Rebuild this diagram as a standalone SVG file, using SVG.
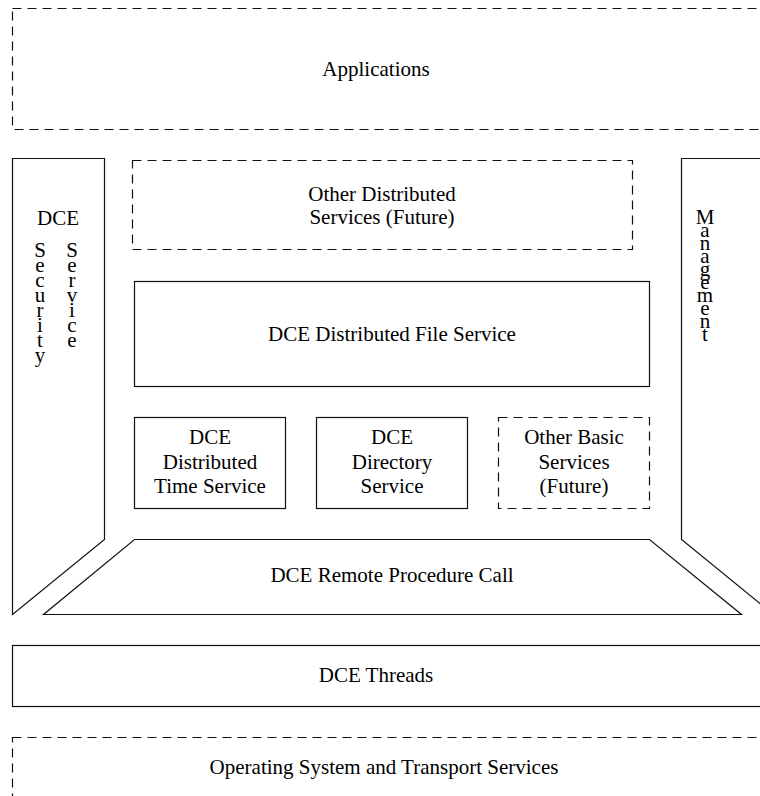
<svg xmlns="http://www.w3.org/2000/svg" width="760" height="796" viewBox="0 0 760 796">
<style>
.b{fill:none;stroke:#111;stroke-width:1.2}
.d{fill:none;stroke:#111;stroke-width:1.2;stroke-dasharray:9 6}
text{font-family:"Liberation Serif","Times New Roman",serif;font-size:21px;fill:#000;text-anchor:middle}
</style>
<rect width="760" height="796" fill="#fff"/>
<g id="applications">
<rect class="d" x="12.5" y="8.5" width="770" height="121"/>
<text x="376" y="76">Applications</text>
</g>
<g id="security">
<path class="b" d="M12.5 158.5 H104.5 V539.5 L12.5 614.5 Z"/>
<text x="58" y="225">DCE</text>
<text><tspan x="40" y="257">S</tspan><tspan x="40" y="272">e</tspan><tspan x="40" y="287">c</tspan><tspan x="40" y="302">u</tspan><tspan x="40" y="317">r</tspan><tspan x="40" y="332">i</tspan><tspan x="40" y="347">t</tspan><tspan x="40" y="362">y</tspan></text>
<text><tspan x="72" y="257">S</tspan><tspan x="72" y="272">e</tspan><tspan x="72" y="287">r</tspan><tspan x="72" y="302">v</tspan><tspan x="72" y="317">i</tspan><tspan x="72" y="332">c</tspan><tspan x="72" y="347">e</tspan></text>
</g>
<g id="management">
<path class="b" d="M790 158.5 H681.5 V539.5 L790 628"/>
<text><tspan x="705" y="224">M</tspan><tspan x="705" y="237">a</tspan><tspan x="705" y="250">n</tspan><tspan x="705" y="263">a</tspan><tspan x="705" y="276">g</tspan><tspan x="705" y="289">e</tspan><tspan x="705" y="302">m</tspan><tspan x="705" y="315">e</tspan><tspan x="705" y="328">n</tspan><tspan x="705" y="341">t</tspan></text>
</g>
<g id="other-distributed">
<rect class="d" x="132.5" y="160.5" width="500" height="89"/>
<text x="382" y="201">Other Distributed</text>
<text x="382" y="224">Services (Future)</text>
</g>
<g id="file-service">
<rect class="b" x="134.5" y="281.5" width="515" height="105"/>
<text x="392" y="341">DCE Distributed File Service</text>
</g>
<g id="time-service">
<rect class="b" x="134.5" y="417.5" width="151" height="91"/>
<text x="210" y="444">DCE</text>
<text x="210" y="469">Distributed</text>
<text x="210" y="493">Time Service</text>
</g>
<g id="directory-service">
<rect class="b" x="316.5" y="417.5" width="151" height="91"/>
<text x="392" y="444">DCE</text>
<text x="392" y="469">Directory</text>
<text x="392" y="493">Service</text>
</g>
<g id="other-basic">
<rect class="d" x="498.5" y="417.5" width="151" height="91"/>
<text x="574" y="444">Other Basic</text>
<text x="574" y="469">Services</text>
<text x="574" y="493">(Future)</text>
</g>
<g id="rpc">
<path class="b" d="M134.5 539.5 H649.5 L741.5 614.5 H43.5 Z"/>
<text x="392" y="582">DCE Remote Procedure Call</text>
</g>
<g id="threads">
<rect class="b" x="12.5" y="645.5" width="770" height="61"/>
<text x="376" y="682">DCE Threads</text>
</g>
<g id="os">
<rect class="d" x="12.5" y="737.5" width="770" height="80"/>
<text x="384" y="774">Operating System and Transport Services</text>
</g>
</svg>
